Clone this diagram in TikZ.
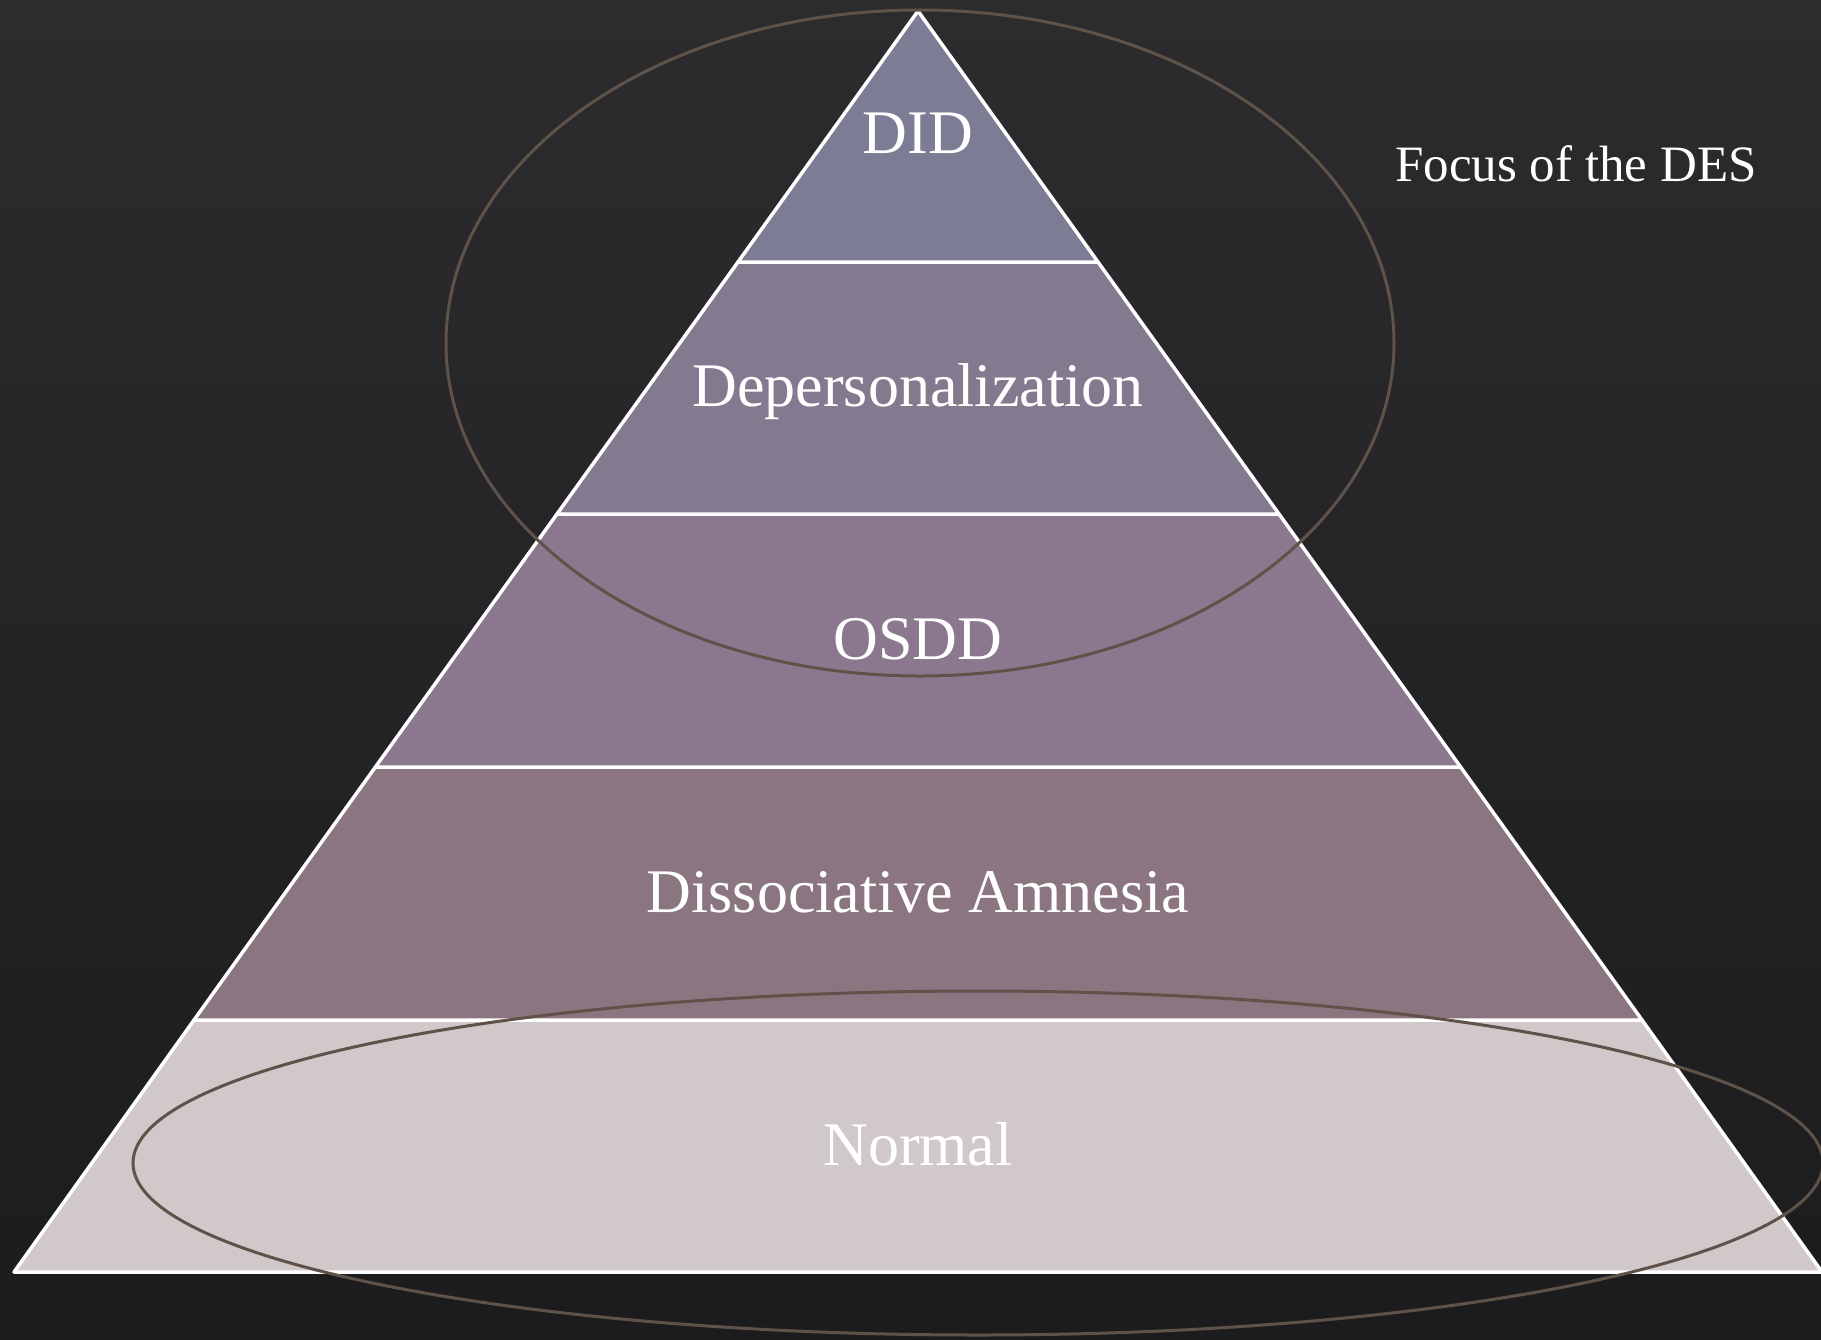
\documentclass[tikz,border=0pt]{standalone}
\usepackage{fontspec}
\setmainfont{Liberation Serif}
\definecolor{bgtop}{HTML}{2C2C2F}
\definecolor{bgbot}{HTML}{1C1C1E}
\definecolor{cDID}{HTML}{7C7C94}
\definecolor{cDep}{HTML}{847A90}
\definecolor{cOSDD}{HTML}{8C788E}
\definecolor{cAmn}{HTML}{8A7580}
\definecolor{cNorm}{HTML}{D1C8C9}
\definecolor{ring}{HTML}{5F5248}
\begin{document}
\begin{tikzpicture}[x=1pt,y=-1pt,
  layer/.style={draw=white,line width=3.5pt,line join=round},
  lbl/.style={text=white,anchor=base,inner sep=0pt,font=\fontsize{62}{70}\selectfont},
  ringline/.style={draw=ring,line width=3pt}]
\shade[top color=bgtop,bottom color=bgbot] (0,0) rectangle (1821,1339);
\useasboundingbox (0,0) rectangle (1821,1339);
% boundary coordinates
\coordinate (apex) at (918,11);
\coordinate (l1) at (738,262);  \coordinate (r1) at (1098,262);
\coordinate (l2) at (557,514);  \coordinate (r2) at (1279,514);
\coordinate (l3) at (375.4,767);\coordinate (r3) at (1460.6,767);
\coordinate (l4) at (194,1020); \coordinate (r4) at (1642,1020);
\coordinate (l5) at (14,1272);  \coordinate (r5) at (1822,1272);
% layers
\filldraw[layer,fill=cNorm] (l4) -- (r4) -- (r5) -- (l5) -- cycle;
\filldraw[layer,fill=cAmn]  (l3) -- (r3) -- (r4) -- (l4) -- cycle;
\filldraw[layer,fill=cOSDD] (l2) -- (r2) -- (r3) -- (l3) -- cycle;
\filldraw[layer,fill=cDep]  (l1) -- (r1) -- (r2) -- (l2) -- cycle;
\filldraw[layer,fill=cDID]  (apex) -- (r1) -- (l1) -- cycle;
% labels
\node[lbl] (did) at (918,153) {DID};
\node[lbl] (dep) at (918,406) {Depersonalization};
\node[lbl] (osdd) at (918,659) {OSDD};
\node[lbl] (amn) at (918,912) {Dissociative Amnesia};
\node[lbl] (norm) at (918,1165) {Normal};
\node[text=white,anchor=base,inner sep=0pt,font=\fontsize{51}{60}\selectfont] (focus) at (1576,181) {Focus of the DES};
% ellipses
\draw[ringline] (920,343) ellipse [x radius=474, y radius=333];
\draw[ringline] (978,1163) ellipse [x radius=845, y radius=172];
\end{tikzpicture}
\end{document}
